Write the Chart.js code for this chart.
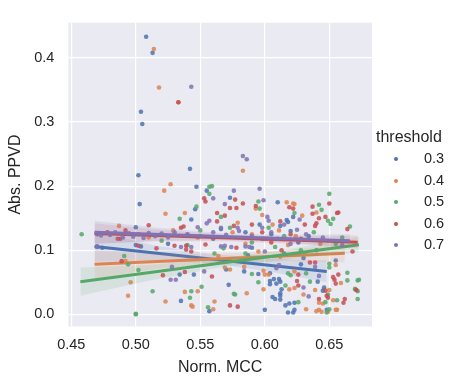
<!DOCTYPE html>
<html>
<head>
<meta charset="utf-8">
<script src="https://cdn.jsdelivr.net/npm/chart.js@4.4.1/dist/chart.umd.min.js"></script>
<style>
    body { margin: 0; background: #fff; font-family: "Liberation Sans", Arial, sans-serif; }
    #wrap { position: relative; width: 460px; height: 384px; }
    #legend { position: absolute; left: 376px; top: 126px; color: #262626; }
    #legend .title { font-size: 16px; line-height: 22px; }
    #legend .item { position: relative; height: 21.5px; font-size: 14.5px; line-height: 21.5px; }
    #legend .dot { position: absolute; left: 18px; top: 9px; width: 4px; height: 4px; border-radius: 2px; }
    #legend .lab { position: absolute; left: 48px; top: 0; }
</style>
</head>
<body>
<div id="wrap">
    <canvas id="chart" width="460" height="384"></canvas>
    <div id="legend"></div>
</div>
<script>
const thresholds = ["0.3", "0.4", "0.5", "0.6", "0.7"];
const colors = ["#4c72b0", "#dd8452", "#55a868", "#c44e52", "#8172b3"];
const xTicks = [0.45, 0.5, 0.55, 0.6, 0.65];
const yTicks = [0.0, 0.1, 0.2, 0.3, 0.4];

// [Norm. MCC, Abs. PPVD]
const pts03 = [[0.508,0.433],[0.513,0.408],[0.504,0.316],[0.505,0.297],[0.542,0.227],[0.502,0.217],[0.547,0.199],[0.555,0.193],[0.503,0.172],[0.573,0.182],[0.610,0.175],[0.546,0.164],[0.543,0.148],[0.500,0.136],[0.566,0.133],[0.617,0.147],[0.618,0.144],[0.470,0.106],[0.474,0.104],[0.500,0.108],[0.504,0.106],[0.572,0.085],[0.570,0.070],[0.534,0.062],[0.545,0.062],[0.584,0.067],[0.595,0.063],[0.572,0.046],[0.535,0.021],[0.557,0.005],[0.600,0.007],[0.604,0.064],[0.641,0.051],[0.604,0.052],[0.607,0.055],[0.611,0.055],[0.612,0.051],[0.609,0.048],[0.604,0.047],[0.613,0.039],[0.612,0.033],[0.612,0.029],[0.606,0.027],[0.608,0.024],[0.612,0.023],[0.646,0.042],[0.645,0.037],[0.648,0.007],[0.616,0.014],[0.619,0.017],[0.623,0.018],[0.618,0.003],[0.622,0.003],[0.623,0.007],[0.598,0.118],[0.605,0.125],[0.612,0.138],[0.620,0.130],[0.626,0.112],[0.590,0.104],[0.615,0.095],[0.630,0.088],[0.585,0.128],[0.622,0.152],[0.596,0.140],[0.634,0.122],[0.640,0.100],[0.560,0.118],[0.525,0.110],[0.540,0.124],[0.655,0.084],[0.628,0.078],[0.587,0.092]];
const pts04 = [[0.514,0.414],[0.518,0.354],[0.533,0.331],[0.527,0.203],[0.522,0.193],[0.583,0.224],[0.617,0.175],[0.622,0.173],[0.623,0.172],[0.523,0.157],[0.487,0.138],[0.538,0.158],[0.593,0.165],[0.598,0.155],[0.579,0.143],[0.529,0.131],[0.640,0.159],[0.629,0.154],[0.492,0.083],[0.496,0.050],[0.494,0.029],[0.523,0.020],[0.564,0.091],[0.569,0.073],[0.573,0.070],[0.584,0.074],[0.599,0.068],[0.600,0.062],[0.599,0.039],[0.538,0.035],[0.548,0.036],[0.586,0.033],[0.561,0.020],[0.543,0.014],[0.544,0.012],[0.560,0.008],[0.603,0.062],[0.623,0.067],[0.655,0.077],[0.659,0.049],[0.619,0.039],[0.623,0.041],[0.639,0.038],[0.650,0.038],[0.642,0.018],[0.645,0.017],[0.653,0.022],[0.630,0.031],[0.632,0.008],[0.640,0.005],[0.642,0.007],[0.644,0.004],[0.649,0.004],[0.655,0.007],[0.656,0.007],[0.670,0.040],[0.590,0.125],[0.602,0.118],[0.611,0.131],[0.618,0.108],[0.624,0.122],[0.606,0.140],[0.595,0.098],[0.585,0.110],[0.631,0.095],[0.548,0.120],[0.510,0.120],[0.480,0.125],[0.643,0.110],[0.612,0.090],[0.575,0.128]];
const pts05 = [[0.557,0.199],[0.559,0.200],[0.557,0.188],[0.595,0.176],[0.650,0.188],[0.642,0.171],[0.547,0.168],[0.566,0.152],[0.534,0.149],[0.596,0.165],[0.550,0.131],[0.573,0.135],[0.623,0.158],[0.644,0.163],[0.653,0.149],[0.649,0.146],[0.651,0.141],[0.666,0.137],[0.458,0.125],[0.491,0.091],[0.494,0.078],[0.502,0.069],[0.513,0.036],[0.500,0.001],[0.500,0.000],[0.561,0.095],[0.568,0.103],[0.590,0.063],[0.595,0.050],[0.551,0.043],[0.543,0.036],[0.576,0.032],[0.577,0.031],[0.542,0.026],[0.556,0.011],[0.618,0.064],[0.620,0.061],[0.632,0.064],[0.650,0.079],[0.650,0.073],[0.664,0.065],[0.664,0.053],[0.672,0.053],[0.673,0.054],[0.616,0.045],[0.635,0.051],[0.649,0.031],[0.647,0.019],[0.656,0.022],[0.672,0.024],[0.626,0.019],[0.648,0.003],[0.650,0.008],[0.670,0.039],[0.672,0.036],[0.600,0.118],[0.608,0.105],[0.615,0.122],[0.590,0.112],[0.628,0.100],[0.638,0.128],[0.655,0.110],[0.660,0.120],[0.585,0.095],[0.520,0.115],[0.540,0.108],[0.603,0.135]];
const pts06 = [[0.533,0.331],[0.553,0.181],[0.554,0.176],[0.577,0.179],[0.583,0.173],[0.650,0.173],[0.573,0.166],[0.578,0.166],[0.563,0.158],[0.569,0.154],[0.563,0.145],[0.576,0.138],[0.535,0.135],[0.537,0.137],[0.593,0.169],[0.637,0.168],[0.656,0.158],[0.657,0.159],[0.637,0.157],[0.647,0.152],[0.642,0.150],[0.640,0.142],[0.639,0.138],[0.664,0.133],[0.619,0.167],[0.622,0.165],[0.631,0.140],[0.510,0.139],[0.492,0.131],[0.486,0.118],[0.488,0.118],[0.502,0.107],[0.516,0.103],[0.489,0.083],[0.521,0.061],[0.530,0.107],[0.539,0.107],[0.539,0.101],[0.543,0.098],[0.554,0.109],[0.578,0.104],[0.538,0.066],[0.559,0.059],[0.573,0.014],[0.579,0.012],[0.626,0.062],[0.635,0.081],[0.639,0.081],[0.653,0.058],[0.654,0.054],[0.657,0.062],[0.655,0.048],[0.625,0.052],[0.626,0.045],[0.647,0.037],[0.648,0.029],[0.642,0.024],[0.649,0.026],[0.662,0.024],[0.661,0.018],[0.671,0.038],[0.470,0.125],[0.478,0.128],[0.495,0.126],[0.598,0.128],[0.605,0.112],[0.612,0.145],[0.620,0.125],[0.628,0.118],[0.590,0.140],[0.613,0.100],[0.668,0.098]];
const pts07 = [[0.543,0.355],[0.583,0.247],[0.586,0.242],[0.576,0.193],[0.596,0.196],[0.560,0.181],[0.599,0.178],[0.569,0.172],[0.557,0.146],[0.555,0.142],[0.548,0.136],[0.566,0.135],[0.579,0.135],[0.627,0.148],[0.602,0.152],[0.603,0.146],[0.470,0.126],[0.473,0.123],[0.480,0.124],[0.484,0.128],[0.490,0.120],[0.494,0.126],[0.498,0.121],[0.502,0.125],[0.506,0.119],[0.510,0.127],[0.515,0.122],[0.520,0.126],[0.525,0.120],[0.530,0.128],[0.535,0.105],[0.543,0.105],[0.566,0.106],[0.569,0.107],[0.574,0.105],[0.585,0.106],[0.588,0.105],[0.528,0.074],[0.553,0.067],[0.527,0.054],[0.531,0.054],[0.611,0.077],[0.609,0.072],[0.642,0.060],[0.639,0.074],[0.630,0.042],[0.634,0.028],[0.470,0.105],[0.540,0.125],[0.550,0.122],[0.560,0.128],[0.570,0.124],[0.580,0.130],[0.590,0.122],[0.598,0.135],[0.605,0.128],[0.610,0.118],[0.615,0.140],[0.620,0.110],[0.625,0.132],[0.632,0.125],[0.645,0.120],[0.600,0.098],[0.660,0.108]];
const points = [pts03, pts04, pts05, pts06, pts07];

// regression fits: end points of each line, and the confidence band at 5 x positions
const fitX = [[0.468, 0.648], [0.468, 0.662], [0.457, 0.673], [0.468, 0.672], [0.468, 0.666]];
const fitY = [[0.106, 0.067], [0.078, 0.0955], [0.051, 0.1085], [0.126, 0.1125], [0.128, 0.115]];
const bandX = [
    [0.468, 0.513, 0.558, 0.603, 0.648],
    [0.468, 0.5165, 0.565, 0.6135, 0.662],
    [0.457, 0.511, 0.565, 0.619, 0.673],
    [0.468, 0.519, 0.570, 0.621, 0.672],
    [0.468, 0.5175, 0.567, 0.6165, 0.666],
];
const bandHi = [
    [0.130, 0.108, 0.094, 0.087, 0.084],
    [0.100, 0.094, 0.095, 0.099, 0.110],
    [0.073, 0.077, 0.087, 0.102, 0.121],
    [0.142, 0.132, 0.124, 0.122, 0.123],
    [0.146, 0.135, 0.127, 0.124, 0.125],
];
const bandLo = [
    [0.082, 0.084, 0.080, 0.067, 0.050],
    [0.056, 0.071, 0.079, 0.083, 0.081],
    [0.029, 0.053, 0.073, 0.086, 0.097],
    [0.110, 0.114, 0.114, 0.110, 0.103],
    [0.110, 0.115, 0.116, 0.112, 0.105],
];

function rgba(hex, a) {
    var r = parseInt(hex.slice(1, 3), 16);
    var g = parseInt(hex.slice(3, 5), 16);
    var b = parseInt(hex.slice(5, 7), 16);
    return "rgba(" + r + "," + g + "," + b + "," + a + ")";
}
function xy(xs, ys) {
    return xs.map(function (x, i) { return { x: x, y: ys[i] }; });
}

var datasets = [];
var order = 100;
for (var i = 0; i < thresholds.length; i++) {
    datasets.push({
        type: "scatter",
        data: points[i].map(function (p) { return { x: p[0], y: p[1] }; }),
        backgroundColor: rgba(colors[i], 0.85),
        borderWidth: 0,
        pointRadius: 2.3,
        order: order--,
    });
    datasets.push({
        type: "line",
        data: xy(bandX[i], bandHi[i]),
        borderWidth: 0,
        pointRadius: 0,
        backgroundColor: rgba(colors[i], 0.13),
        fill: "+1",
        order: order--,
    });
    datasets.push({
        type: "line",
        data: xy(bandX[i], bandLo[i]),
        borderWidth: 0,
        pointRadius: 0,
        fill: false,
        order: order--,
    });
    datasets.push({
        type: "line",
        data: xy(fitX[i], fitY[i]),
        borderColor: colors[i],
        borderWidth: 3,
        pointRadius: 0,
        fill: false,
        order: order--,
    });
}

const plotBg = {
    id: "plotBg",
    beforeDraw: function (chart) {
        var a = chart.chartArea;
        chart.ctx.save();
        chart.ctx.fillStyle = "#eaeaf2";
        chart.ctx.fillRect(a.left, a.top, a.right - a.left, a.bottom - a.top);
        chart.ctx.restore();
    },
};

const font = "'Liberation Sans', Arial, sans-serif";
const option = {
    animation: false,
    responsive: false,
    layout: { padding: { left: 6, right: 88, top: 10, bottom: 7 } },
    plugins: {
        legend: { display: false },
        tooltip: { enabled: false },
    },
    scales: {
        x: {
            type: "linear",
            min: 0.4477,
            max: 0.6831,
            afterBuildTicks: function (axis) {
                axis.ticks = xTicks.map(function (v) { return { value: v }; });
            },
            grid: { color: "#ffffff", lineWidth: 1.2, drawTicks: false },
            border: { display: false },
            ticks: {
                padding: 10,
                maxRotation: 0,
                color: "#262626",
                font: { family: font, size: 14.5 },
                callback: function (v) { return v.toFixed(2); },
            },
            title: {
                display: true,
                text: "Norm. MCC",
                color: "#262626",
                font: { family: font, size: 16 },
                padding: { top: -6, bottom: 0 },
            },
        },
        y: {
            type: "linear",
            min: -0.0188,
            max: 0.455,
            afterBuildTicks: function (axis) {
                axis.ticks = yTicks.map(function (v) { return { value: v }; });
            },
            grid: { color: "#ffffff", lineWidth: 1.2, drawTicks: false },
            border: { display: false },
            ticks: {
                padding: 14,
                color: "#262626",
                font: { family: font, size: 14.5 },
                callback: function (v) { return v.toFixed(1); },
            },
            title: {
                display: true,
                text: "Abs. PPVD",
                color: "#262626",
                font: { family: font, size: 16 },
                padding: { top: 0, bottom: -5 },
            },
        },
    },
};

new Chart(document.getElementById("chart").getContext("2d"), {
    type: "scatter",
    data: { datasets: datasets },
    options: option,
    plugins: [plotBg],
});

var legend = document.getElementById("legend");
var html = '<div class="title">threshold</div>';
for (var k = 0; k < thresholds.length; k++) {
    html += '<div class="item"><span class="dot" style="background:' + colors[k] + '"></span>' +
        '<span class="lab">' + thresholds[k] + "</span></div>";
}
legend.innerHTML = html;
</script>
</body>
</html>
